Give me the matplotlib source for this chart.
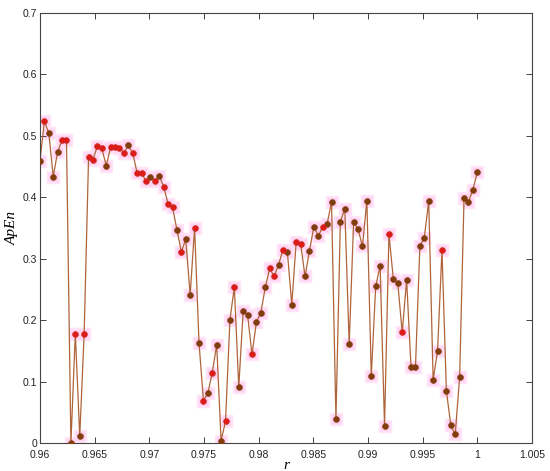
import numpy as np
import matplotlib
matplotlib.use("Agg")
import matplotlib.pyplot as plt
from matplotlib.ticker import FuncFormatter

# Control parameter grid (100 samples between 0.96 and 1.0)
r = np.linspace(0.96, 1.0, 100)

# Approximate entropy values
apen = [
    0.459, 0.523, 0.504, 0.433, 0.474, 0.492, 0.492, 0.000, 0.178, 0.011,
    0.178, 0.465, 0.461, 0.483, 0.479, 0.451, 0.481, 0.481, 0.480, 0.472,
    0.484, 0.471, 0.439, 0.439, 0.426, 0.433, 0.426, 0.434, 0.417, 0.389,
    0.383, 0.347, 0.311, 0.331, 0.241, 0.350, 0.163, 0.069, 0.081, 0.114,
    0.160, 0.004, 0.035, 0.200, 0.254, 0.091, 0.215, 0.208, 0.144, 0.197,
    0.212, 0.253, 0.284, 0.271, 0.290, 0.314, 0.311, 0.225, 0.327, 0.324,
    0.271, 0.312, 0.352, 0.337, 0.351, 0.356, 0.392, 0.039, 0.360, 0.381,
    0.161, 0.359, 0.348, 0.320, 0.394, 0.109, 0.255, 0.288, 0.028, 0.340,
    0.266, 0.260, 0.180, 0.265, 0.123, 0.123, 0.320, 0.334, 0.393, 0.103,
    0.149, 0.314, 0.085, 0.029, 0.014, 0.107, 0.399, 0.392, 0.412, 0.440,
]

# Points drawn with the red marker (1-based positions in the series)
red_points = [2, 6, 7, 9, 11, 12, 13, 14, 15, 17, 18, 19, 20, 22, 23, 24, 25,
              27, 29, 30, 31, 33, 36, 38, 40, 43, 45, 49, 53, 54, 56, 59, 60,
              65, 80, 83, 92]

xticks = [0.96, 0.965, 0.97, 0.975, 0.98, 0.985, 0.99, 0.995, 1.0, 1.005]
yticks = [0, 0.1, 0.2, 0.3, 0.4, 0.5, 0.6, 0.7]

apen = np.asarray(apen)
is_red = np.zeros(len(apen), dtype=bool)
is_red[np.array(red_points) - 1] = True

fig = plt.figure(figsize=(5.5, 4.71), dpi=100)
ax = fig.add_axes([0.0727, 0.0594, 0.8945, 0.914])

tick_font = "Liberation Sans"

# soft pink glow behind points
ax.plot(r, apen, linestyle="none", marker="s", markersize=9.0,
        color="#ffe4f8", zorder=1)
ax.plot(r, apen, linestyle="none", marker="s", markersize=6.0,
        color="#ffd2f2", zorder=1)
ax.plot(r, apen, "-", color="#b0643a", linewidth=0.9, zorder=2)
ax.plot(r[~is_red], apen[~is_red], linestyle="none", marker="o",
        markersize=4.2, markerfacecolor="#7e3f0c", markeredgecolor="#8a3510",
        markeredgewidth=0.4, zorder=3)
ax.plot(r[is_red], apen[is_red], linestyle="none", marker="o",
        markersize=4.2, markerfacecolor="#dd1c1a", markeredgecolor="#c8281a",
        markeredgewidth=0.4, zorder=3)

ax.set_xlim(0.96, 1.005)
ax.set_ylim(0, 0.7)
ax.set_xticks(xticks)
ax.set_yticks(yticks)
fmt = FuncFormatter(lambda v, p: "%g" % round(v, 4))
ax.xaxis.set_major_formatter(fmt)
ax.yaxis.set_major_formatter(fmt)
ax.tick_params(direction="in", length=4, width=0.6, top=True, right=True,
               labelsize=7.5, colors="#222222")
ax.tick_params(axis="x", pad=5)
ax.tick_params(axis="y", pad=2)
for lab in ax.get_xticklabels() + ax.get_yticklabels():
    lab.set_fontfamily(tick_font)
for s in ax.spines.values():
    s.set_color("#444444")
    s.set_linewidth(0.8)

ax.set_xlabel("r", fontfamily="Liberation Serif", fontstyle="italic",
              fontsize=11, labelpad=-1)
ax.set_ylabel("ApEn", fontfamily="Liberation Serif", fontstyle="italic",
              fontsize=11, labelpad=3)

fig.savefig("out.png", dpi=100)
